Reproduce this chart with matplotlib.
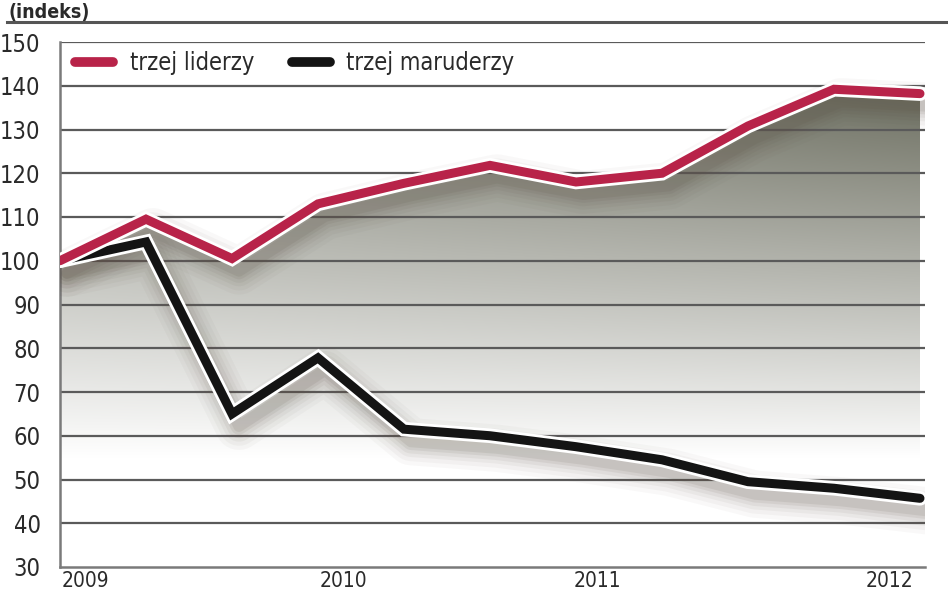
import numpy as np
import matplotlib
matplotlib.use("Agg")
import matplotlib.pyplot as plt
import matplotlib.transforms as mtransforms
from matplotlib.patches import Polygon
from matplotlib.lines import Line2D
import matplotlib.patheffects as pe

# ---------------- data ----------------
quarters = list(range(11))
leaders = [100, 109.5, 100.5, 113, 117.7, 121.8, 118, 120, 130.8, 139.2, 138.2]
laggards = [100, 104.3, 65, 77.8, 61.5, 60, 57.5, 54.5, 49.5, 48, 45.7]
series_names = ["trzej liderzy", "trzej maruderzy"]
year_labels = ["2009", "2010", "2011", "2012"]
year_pos = [0.3, 3.3, 6.25, 9.65]
yticks = list(range(30, 151, 10))
title_text = "(indeks)"

# ---------------- style ----------------
plt.rcParams["font.family"] = ["DejaVu Sans"]
plt.rcParams["font.stretch"] = "condensed"

RED = "#b82349"
BLACK = "#141414"
GRID = "#5a5a5a"
TXT = "#2a2a2a"

W, H = 948, 593
fig = plt.figure(figsize=(W / 100, H / 100), dpi=100)
ax = fig.add_axes([60 / W, 1 - 567 / H, (925 - 60) / W, (567 - 42) / H])
ax.set_xlim(0, 10 + 5 / 86)
ax.set_ylim(30, 150)

# gradient fill under the leaders line
x = np.asarray(quarters, float)
yl = np.asarray(leaders, float)
yb = np.asarray(laggards, float)
ny, nx = 300, 200
vv = np.linspace(150, 30, ny)[:, None]
xx = np.linspace(0, 10, nx)[None, :]
t = np.clip((vv - 55) / (140 - 55), 0, 1) ** 0.95
t = t * (0.76 + 0.24 * xx / 10)
dark = np.array([108, 110, 96]) / 255.0
white = np.array([1.0, 1.0, 1.0])
img = white[None, None, :] * (1 - t[..., None]) + dark[None, None, :] * t[..., None]
im = ax.imshow(img, extent=(0, 10, 30, 150), aspect="auto", zorder=1, interpolation="bilinear")
poly = Polygon(np.column_stack([np.r_[x, x[::-1]], np.r_[yl, np.full_like(yl, 30)]]),
               closed=True, transform=ax.transData, facecolor="none", edgecolor="none")
ax.add_patch(poly)
im.set_clip_path(poly)

# gridlines
for v in yticks[1:]:
    ax.axhline(v, color=GRID, lw=1.6, zorder=2)

# spines
for s in ["top", "right"]:
    ax.spines[s].set_visible(False)
for s in ["left", "bottom"]:
    ax.spines[s].set_color("#7a7a7a")
    ax.spines[s].set_linewidth(1.8)

# soft shadows
def shadow(xs, ys):
    tr = mtransforms.offset_copy(ax.transData, fig=fig, x=5, y=-9, units="points")
    for w, a in [(34, 0.035), (28, 0.045), (22, 0.055), (17, 0.065), (12, 0.085), (8, 0.1)]:
        ax.plot(xs, ys, color="#5a5044", lw=w, alpha=a, transform=tr,
                solid_capstyle="round", solid_joinstyle="round", zorder=3)

shadow(x, yl)
shadow(x, yb)

stroke = [pe.withStroke(linewidth=10.5, foreground="white")]
ax.plot(x, yb, color=BLACK, lw=6.5, solid_capstyle="round", solid_joinstyle="miter",
        path_effects=stroke, zorder=5)
ax.plot(x, yl, color=RED, lw=6.5, solid_capstyle="round", solid_joinstyle="miter",
        path_effects=stroke, zorder=6)

# ticks
ax.set_yticks(yticks)
ax.set_yticklabels([str(v) for v in yticks], fontsize=17, color=TXT)
ax.set_xticks(year_pos)
ax.set_xticklabels(year_labels, fontsize=15, color=TXT, va="top")
ax.tick_params(axis="y", length=0, pad=14)
ax.tick_params(axis="x", length=0, pad=3)

# legend
h = [Line2D([], [], color=RED, lw=7, solid_capstyle="round"),
     Line2D([], [], color=BLACK, lw=7, solid_capstyle="round")]
leg = ax.legend(h, series_names, loc="upper left", bbox_to_anchor=(0.0, 1.012), ncol=2,
                frameon=False, fontsize=17, handlelength=1.6, handletextpad=0.7,
                columnspacing=1.6, borderaxespad=0.25)
for txt in leg.get_texts():
    txt.set_color(TXT)
leg.set_zorder(10)

# title rule and title
fig.add_artist(Line2D([7 / W, 1.0], [1 - 22 / H, 1 - 22 / H], color="#555555", lw=2.2))
fig.text(8 / W, 1 - 18 / H, title_text, fontsize=14, fontweight="bold", color=TXT,
         va="baseline", ha="left")

fig.savefig("out.png", dpi=100)
